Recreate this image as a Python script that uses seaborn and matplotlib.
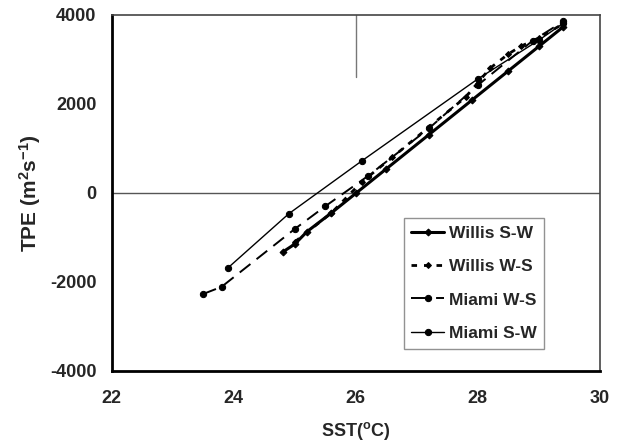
import matplotlib
matplotlib.use("Agg")
import matplotlib.pyplot as plt
import seaborn as sns
import pandas as pd

# ---- data ----
willis_sw_x = [24.8, 25.0, 25.2, 25.6, 26.0, 26.5, 27.2, 27.9, 28.5, 29.0, 29.4]
willis_sw_y = [-1330, -1150, -870, -450, -10, 540, 1310, 2080, 2740, 3290, 3730]

willis_ws_x = [25.0, 25.6, 26.1, 26.6, 27.2, 27.8, 28.2, 28.5, 28.7, 29.0, 29.4]
willis_ws_y = [-1100, -450, 250, 800, 1480, 2150, 2800, 3120, 3290, 3480, 3800]

miami_ws_x = [23.5, 23.8, 25.0, 25.5, 26.2, 27.2, 28.0, 28.9, 29.4]
miami_ws_y = [-2270, -2110, -810, -300, 380, 1450, 2420, 3420, 3850]

miami_sw_x = [23.9, 24.9, 26.1, 28.0, 29.0, 29.4]
miami_sw_y = [-1690, -470, 720, 2560, 3430, 3810]

series_names = ["Willis S-W", "Willis W-S", "Miami W-S", "Miami S-W"]
x_ticks = [22, 24, 26, 28, 30]
y_ticks = [-4000, -2000, 0, 2000, 4000]

sns.set_theme(style="white")
plt.rcParams["font.family"] = ["Liberation Sans", "DejaVu Sans"]
plt.rcParams["font.weight"] = "bold"
plt.rcParams["mathtext.fontset"] = "custom"
plt.rcParams["mathtext.rm"] = "Liberation Sans:bold"
plt.rcParams["mathtext.bf"] = "Liberation Sans:bold"
plt.rcParams["mathtext.it"] = "Liberation Sans:bold"

fig = plt.figure(figsize=(6.21, 4.48), dpi=100)
ax = fig.add_axes([0.180, 0.172, 0.786, 0.795])

# reference lines
ax.axhline(0, color="#555555", lw=1.0, zorder=1)
ax.plot([26, 26], [4000, 2600], color="#777777", lw=1.0, zorder=1)

df1 = pd.DataFrame({"x": willis_sw_x, "y": willis_sw_y})
df2 = pd.DataFrame({"x": willis_ws_x, "y": willis_ws_y})
df3 = pd.DataFrame({"x": miami_ws_x, "y": miami_ws_y})
df4 = pd.DataFrame({"x": miami_sw_x, "y": miami_sw_y})

mk = dict(markeredgecolor="black", markerfacecolor="black")
sns.lineplot(data=df1, x="x", y="y", ax=ax, sort=False, color="black",
             lw=2.2, marker="D", markersize=3.5, label=series_names[0], **mk)
sns.lineplot(data=df2, x="x", y="y", ax=ax, sort=False, color="black",
             lw=2.0, linestyle=(0, (2.0, 2.5)), marker="D",
             markersize=3, label=series_names[1], **mk)
sns.lineplot(data=df3, x="x", y="y", ax=ax, sort=False, color="black",
             lw=1.4, linestyle=(0, (7, 4)), marker="o", markersize=4.5,
             label=series_names[2], **mk)
sns.lineplot(data=df4, x="x", y="y", ax=ax, sort=False, color="black",
             lw=1.0, marker="o", markersize=4.5, label=series_names[3], **mk)

ax.set_xlim(22, 30)
ax.set_ylim(-4000, 4000)
ax.set_xticks(x_ticks)
ax.set_yticks(y_ticks)
ax.set_xticklabels([str(t) for t in x_ticks], fontsize=13, fontweight="bold")
ax.set_yticklabels([str(t) for t in y_ticks], fontsize=13, fontweight="bold")
ax.tick_params(axis="both", direction="in", length=4, width=0.8,
               color="#666666", pad=11)
ax.tick_params(axis="x", pad=14)

for side in ["left", "bottom"]:
    ax.spines[side].set_color("black")
    ax.spines[side].set_linewidth(2.0)
for side in ["top", "right"]:
    ax.spines[side].set_color("#444444")
    ax.spines[side].set_linewidth(1.2)
    ax.spines[side].set_visible(True)

ax.set_xlabel(r"SST($^{\mathbf{o}}$C)", fontsize=13, fontweight="bold", labelpad=9)
ax.set_ylabel(r"TPE (m$^{2}$s$^{-1}$)", fontsize=15, fontweight="bold", labelpad=5)

leg = ax.legend(loc="upper left", bbox_to_anchor=(0.598, 0.43),
                fontsize=12.5, frameon=True, fancybox=False,
                handlelength=1.9, handletextpad=0.25, labelspacing=1.05,
                borderpad=0.45, borderaxespad=0)
leg.get_frame().set_edgecolor("#777777")
leg.get_frame().set_linewidth(1.0)
for t in leg.get_texts():
    t.set_fontweight("bold")
# legend handle of Miami W-S: long dash, dot, gap, short dash
handles = leg.legend_handles
handles[2].set_linestyle((0, (10.1, 2.8, 7)))

fig.savefig("out.png", dpi=100)
